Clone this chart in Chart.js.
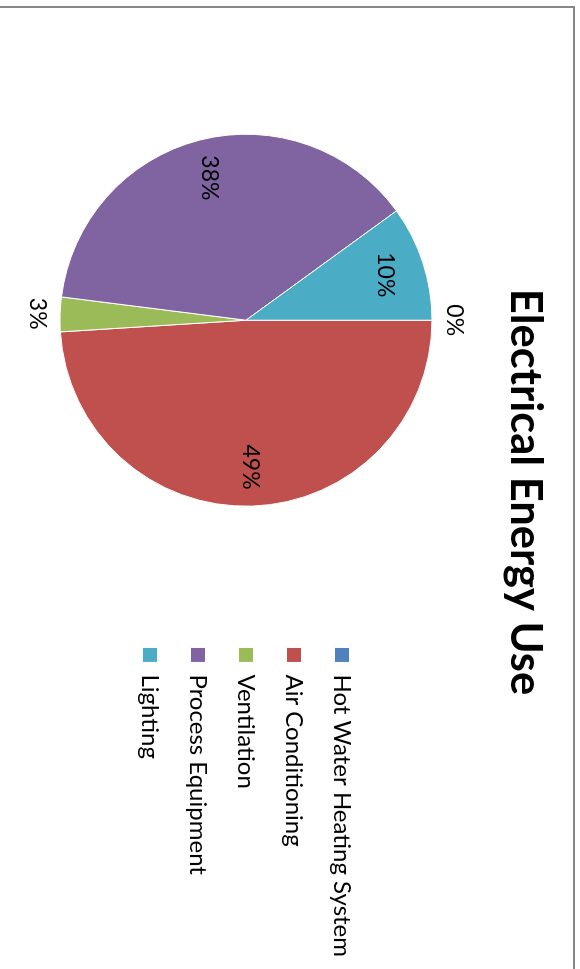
<!DOCTYPE html>
<html lang="en">
<head>
    <meta charset="UTF-8">
    <title>Electrical Energy Use</title>
    <script src="https://cdn.jsdelivr.net/npm/chart.js"></script>
    <style>
        html, body {
            margin: 0;
            padding: 0;
            background: #fff;
            overflow: hidden;
            width: 580px;
            height: 969px;
        }
        /* the chart is drawn landscape and turned a quarter clockwise */
        .sheet {
            position: absolute;
            left: 0;
            top: 0;
            width: 985px;
            height: 580px;
            transform-origin: 0 0;
            transform: translate(580px, 0) rotate(90deg);
        }
        .frame {
            position: absolute;
            left: 6px;
            top: 5px;
            width: 1100px;
            height: 700px;
            border-left: 2px solid #878787;
            border-top: 2px solid #878787;
        }
        .sheet canvas {
            position: absolute;
            left: 0;
            top: 0;
        }
    </style>
</head>
<body>
    <div class="sheet">
        <div class="frame"></div>
        <canvas id="pieChart" width="985" height="580"></canvas>
    </div>

    <script>
        // Данные диаграммы
        const categories = ['Hot Water Heating System', 'Air Conditioning', 'Ventilation', 'Process Equipment', 'Lighting'];
        const shares = [0, 49, 3, 38, 10];   // % of electrical energy
        const sliceColors = ['#4F81BD', '#C0504D', '#9BBB59', '#8064A2', '#4BACC6'];

        Chart.defaults.font.family = 'Lato';
        Chart.defaults.color = '#000';

        // percent labels like Excel: inside for big slices, outside for small ones
        const pctLabels = {
            id: 'pctLabels',
            afterDatasetsDraw(chart) {
                const ctx = chart.ctx;
                const meta = chart.getDatasetMeta(0);
                ctx.save();
                ctx.font = '23px Lato';
                ctx.fillStyle = '#000';
                ctx.textAlign = 'center';
                ctx.textBaseline = 'middle';
                meta.data.forEach((arc, i) => {
                    const p = arc.getProps(['x', 'y', 'startAngle', 'endAngle', 'outerRadius'], true);
                    const mid = (p.startAngle + p.endAngle) / 2;
                    const k = shares[i] < 5 ? 1.12 : 0.79;
                    ctx.fillText(shares[i] + '%', p.x + Math.cos(mid) * p.outerRadius * k, p.y + Math.sin(mid) * p.outerRadius * k);
                });
                ctx.restore();
            }
        };

        const ctx = document.getElementById('pieChart').getContext('2d');
        const pieChart = new Chart(ctx, {
            type: 'pie',
            data: {
                labels: categories,
                datasets: [{
                    data: shares,
                    backgroundColor: sliceColors,
                    borderColor: '#fff',
                    borderWidth: 1
                }]
            },
            options: {
                responsive: false,
                animation: false,
                layout: {
                    padding: { left: 17, right: 18, top: 0, bottom: 59.5 }
                },
                plugins: {
                    title: {
                        display: true,
                        text: 'Electrical Energy Use',
                        font: { size: 43.5, weight: 'bold' },
                        color: '#000',
                        padding: { top: 29, bottom: 66.3 }
                    },
                    legend: {
                        position: 'right',
                        fullSize: false,
                        labels: {
                            boxWidth: 15,
                            boxHeight: 15,
                            padding: 24,
                            font: { size: 24 },
                            color: '#000'
                        }
                    },
                    tooltip: { enabled: false }
                }
            },
            plugins: [pctLabels]
        });
    </script>
</body>
</html>
